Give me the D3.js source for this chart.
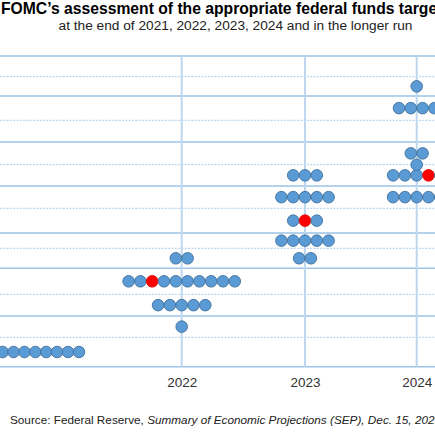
<!DOCTYPE html>
<html>
<head>
<meta charset="utf-8">
<script src="https://cdn.jsdelivr.net/npm/d3@7/dist/d3.min.js"></script>
<style>
  html, body { margin: 0; padding: 0; background: #fff; overflow: hidden; }
  svg { display: block; font-family: "Liberation Sans", Arial, sans-serif; }
</style>
</head>
<body>
<svg id="chart" width="435" height="435"></svg>
<script>
// ---- data ----
const years = [2021, 2022, 2023, 2024];
const tickYears = [2022, 2023, 2024];

const rates2021 = [0.125];
const counts2021 = [18];
const rates2022 = [0.375, 0.625, 0.875, 1.125];
const counts2022 = [1, 5, 10, 2];
const rates2023 = [1.125, 1.375, 1.625, 1.875, 2.125];
const counts2023 = [2, 5, 3, 5, 3];
const rates2024 = [1.875, 2.125, 2.25, 2.375, 2.875, 3.125];
const counts2024 = [5, 5, 1, 2, 4, 1];

const medianRates = [0.125, 0.875, 1.625, 2.125];
const medianSlot = [8, 2, 1, 3];   // which dot in the median row is highlighted

const gridValues = d3.range(0, 3.5001, 0.25);

const titleText = "FOMC\u2019s assessment of the appropriate federal funds target rate";
const subtitleText = "at the end of 2021, 2022, 2023, 2024 and in the longer run";
const sourcePlain = "Source: Federal Reserve, ";
const sourceItalic = "Summary of Economic Projections (SEP), Dec. 15, 2021";

// ---- layout ----
const W = 435, H = 435;
const svg = d3.select("#chart");

// the original grid is not evenly spaced; piecewise linear scale follows it
const yRangePx = [366.7, 337.3, 316, 294.3, 268.3, 248.3, 233, 208.3, 186, 164.7, 142, 120.3, 96, 76.7, 56];
const y = d3.scaleLinear().domain(gridValues).range(yRangePx);
const x = d3.scaleLinear().domain(years).range([-13.7, 181.7, 305, 416.7]);

const r = 5.8;
const gapFor = yr => yr === 2021 ? 10.9 : 11.8;

// ---- grid ----
const grid = svg.append("g");
grid.selectAll("line.h")
  .data(gridValues)
  .join("line")
  .attr("x1", 0).attr("x2", W)
  .attr("y1", d => y(d)).attr("y2", d => y(d))
  .attr("stroke", d => (Math.round(d * 4) % 2 === 0) ? "#9dc3e6" : "#a9cbea")
  .attr("stroke-width", d => (Math.round(d * 4) % 2 === 0) ? 1.4 : 1)
  .attr("stroke-dasharray", d => (Math.round(d * 4) % 2 === 0) ? null : "2,1.3");

grid.selectAll("line.v")
  .data(years)
  .join("line")
  .attr("x1", d => x(d)).attr("x2", d => x(d))
  .attr("y1", y(3.5)).attr("y2", y(0))
  .attr("stroke", "#bdd7ee")
  .attr("stroke-width", 2);

// ---- dots ----
const ratesByYear = [rates2021, rates2022, rates2023, rates2024];
const countsByYear = [counts2021, counts2022, counts2023, counts2024];
const dots = [];
years.forEach((yr, yi) => {
  ratesByYear[yi].forEach((rate, ri) => {
    const n = countsByYear[yi][ri];
    for (let k = 0; k < n; k++) {
      dots.push({
        year: yr, rate, k, n,
        median: rate === medianRates[yi] && k === medianSlot[yi]
      });
    }
  });
});

svg.append("g").selectAll("circle")
  .data(dots)
  .join("circle")
  .attr("cx", d => x(d.year) + (d.k - (d.n - 1) / 2) * gapFor(d.year))
  .attr("cy", d => y(d.rate))
  .attr("r", r)
  .attr("fill", d => d.median ? "#ff0000" : "#5b9bd5")
  .attr("stroke", d => d.median ? "#e00000" : "#41719c")
  .attr("stroke-width", 0.9);

// ---- x axis labels ----
const xAxis = svg.append("g")
  .attr("transform", `translate(0,${y(0)})`)
  .call(d3.axisBottom(x).tickValues(tickYears).tickFormat(d3.format("d")).tickSize(0).tickPadding(11));
xAxis.select(".domain").remove();
xAxis.selectAll("text")
  .attr("font-family", "'Liberation Sans', Arial, sans-serif")
  .attr("font-size", 13.5)
  .attr("fill", "#333");

// ---- titles ----
svg.append("text")
  .attr("x", 1).attr("y", 14)
  .attr("font-size", 15.7)
  .attr("font-weight", "bold")
  .attr("fill", "#000")
  .text(titleText);

svg.append("text")
  .attr("x", 235.5).attr("y", 29.5)
  .attr("text-anchor", "middle")
  .attr("font-size", 13.7)
  .attr("fill", "#222")
  .text(subtitleText);

const src = svg.append("text")
  .attr("x", 10).attr("y", 424)
  .attr("font-size", 11.75)
  .attr("fill", "#222");
src.append("tspan").text(sourcePlain);
src.append("tspan").attr("font-style", "italic").text(sourceItalic);
</script>
</body>
</html>
